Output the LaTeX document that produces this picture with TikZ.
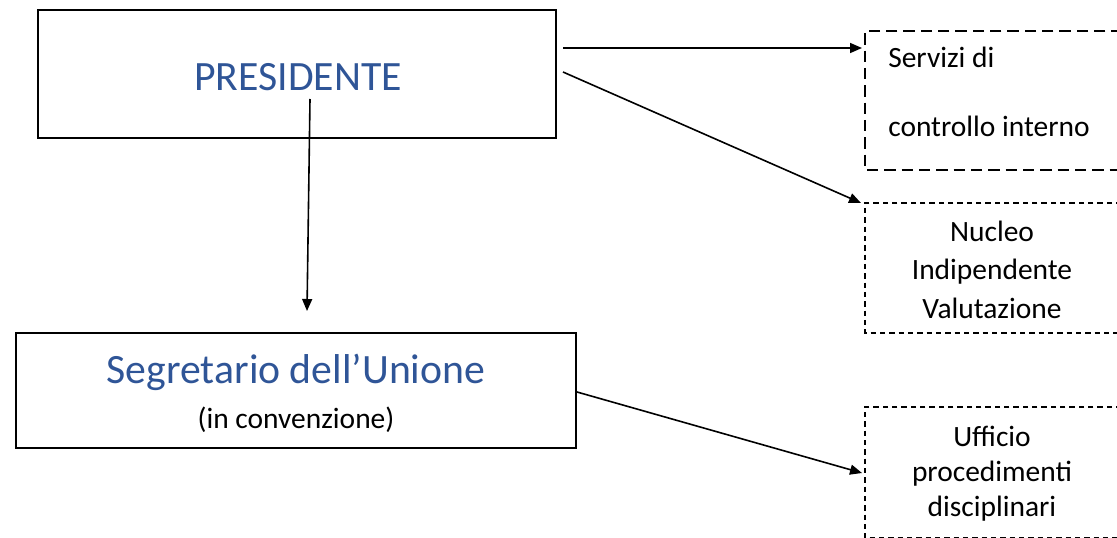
\documentclass[tikz,border=0pt]{standalone}
\usepackage{fontspec}
\setmainfont{Carlito}
\usetikzlibrary{arrows.meta}
\definecolor{titleblue}{RGB}{47,85,151}
\begin{document}
\begin{tikzpicture}[x=0.75pt,y=-0.75pt,
  longdash/.style={draw=black,line width=1.3pt,dash pattern=on 8.5pt off 4.5pt},
  shortdash/.style={draw=black,line width=1.3pt,dash pattern=on 4pt off 3pt},
  bigtext/.style={font=\fontsize{31.3}{36}\selectfont,text=titleblue,anchor=base,inner sep=0pt},
  smalltext/.style={font=\fontsize{22.1}{26}\selectfont,text=black,anchor=base,inner sep=0pt},
  conn/.style={draw=black,line width=1.2pt,-{Triangle[length=9pt,width=7.5pt]}}]
\useasboundingbox (0,0) rectangle (1117,538);
\clip (0,0) rectangle (1117,538);
% solid boxes
\draw[line width=1.4pt] (38,10) rectangle (556,138);
\draw[line width=1.4pt] (16,333) rectangle (576,448);
% dashed boxes
\draw[longdash] (1140,31) -- (865,31) -- (865,170) -- (1140,170);
\draw[shortdash] (1140,203) -- (865,203) -- (865,333) -- (1140,333);
\draw[shortdash] (1140,407) -- (865,407) -- (865,538) -- (1140,538);
% texts
\node[bigtext] (prestext) at (298,91) {PRESIDENTE};
\node[bigtext] (segtext) at (296,383) {Segretario dell’Unione};
\node[smalltext] (convtext) at (296,428) {(in convenzione)};
\node[smalltext,anchor=base west] (serv1) at (888,68) {Servizi di};
\node[smalltext,anchor=base west] (serv2) at (888,137) {controllo interno};
\node[smalltext] (nuc1) at (992,242) {Nucleo};
\node[smalltext] (nuc2) at (992,280) {Indipendente};
\node[smalltext] (nuc3) at (992,318) {Valutazione};
\node[smalltext] (uff1) at (992,446) {Ufficio};
\node[smalltext] (uff2) at (992,481) {procedimenti};
\node[smalltext] (uff3) at (992,516) {disciplinari};
% connectors
\coordinate (a1s) at (563,48);
\coordinate (a1e) at (862,48);
\coordinate (a2s) at (563,72);
\coordinate (a2e) at (861,203);
\coordinate (a3s) at (310,99);
\coordinate (a3e) at (307,311);
\coordinate (a4s) at (577,392);
\coordinate (a4e) at (862,473);
\draw[conn] (a1s) -- (a1e);
\draw[conn] (a2s) -- (a2e);
\draw[conn] (a3s) -- (a3e);
\draw[conn] (a4s) -- (a4e);
\end{tikzpicture}
\end{document}
